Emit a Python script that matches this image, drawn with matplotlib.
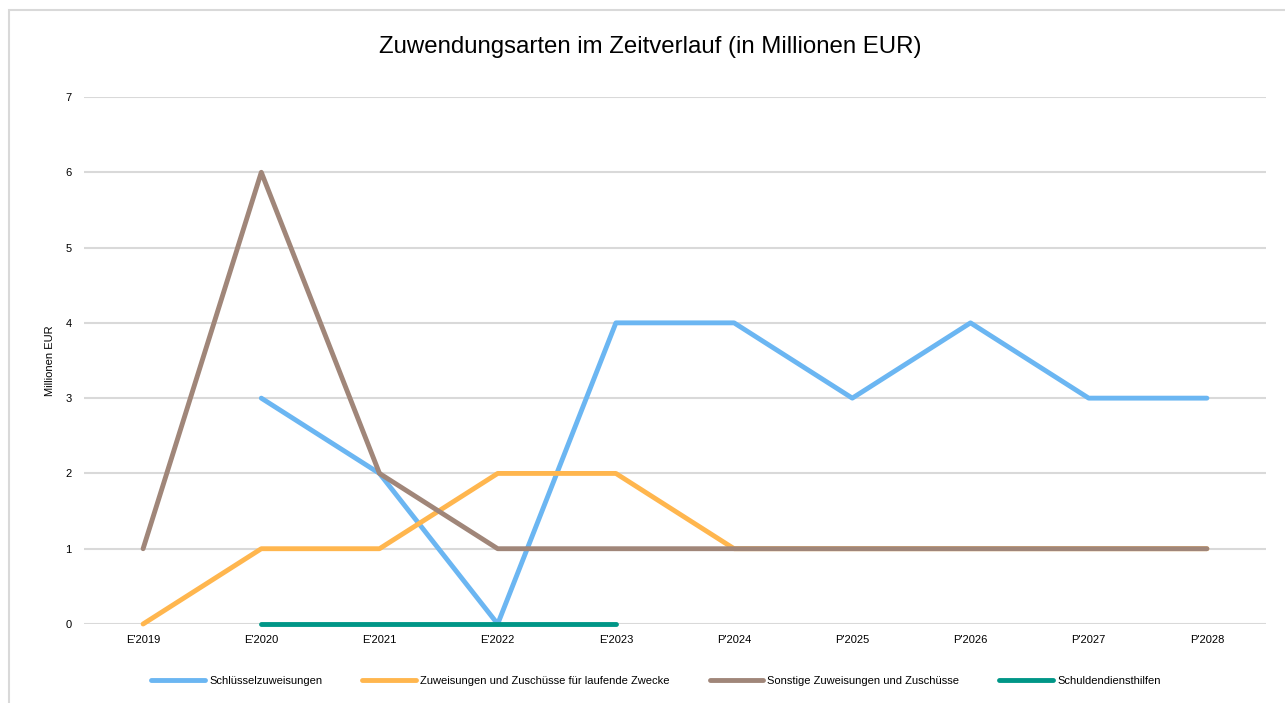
import matplotlib
matplotlib.use("Agg")
import matplotlib.pyplot as plt
from matplotlib.patches import Rectangle
import numpy as np

plt.rcParams['font.family'] = ['Liberation Sans', 'DejaVu Sans']

categories = ["E'2019", "E'2020", "E'2021", "E'2022", "E'2023",
              "P'2024", "P'2025", "P'2026", "P'2027", "P'2028"]
schluessel = [np.nan, 3, 2, 0, 4, 4, 3, 4, 3, 3]
laufende = [0, 1, 1, 2, 2, 1, 1, 1, 1, 1]
sonstige = [1, 6, 2, 1, 1, 1, 1, 1, 1, 1]
schuldendienst = [np.nan, 0, 0, 0, 0, np.nan, np.nan, np.nan, np.nan, np.nan]

series_names = ["Schlüsselzuweisungen",
                "Zuweisungen und Zuschüsse für laufende Zwecke",
                "Sonstige Zuweisungen und Zuschüsse",
                "Schuldendiensthilfen"]
colors = ["#6BB6F2", "#FFB64E", "#A08679", "#009687"]
yticks = [0, 1, 2, 3, 4, 5, 6, 7]

W, H = 1285, 703
fig = plt.figure(figsize=(W / 100, H / 100), dpi=100)
fig.patches.append(Rectangle((9 / W, -0.1), 1.2, 1 - 10 / H + 0.1,
                             transform=fig.transFigure, fill=False,
                             edgecolor="#D9D9D9", linewidth=1.5))

ax = fig.add_axes([84 / W, 1 - 624 / H, (1266 - 84) / W, (624 - 97) / H])
x = np.arange(len(categories))
for vals, name, c in zip([schluessel, laufende, sonstige, schuldendienst],
                         series_names, colors):
    ax.plot(x, vals, color=c, linewidth=3.5, label=name, clip_on=False,
            solid_capstyle="round", solid_joinstyle="round")

ax.set_xlim(-0.5, len(categories) - 0.5)
ax.set_ylim(0, 7)
ax.set_yticks(yticks)
ax.set_xticks(x)
ax.set_xticklabels(categories)
ax.grid(axis="y", color="#D9D9D9", linewidth=1.5)
ax.set_axisbelow(True)
for s in ax.spines.values():
    s.set_visible(False)
ax.tick_params(axis="both", length=0, labelsize=8, colors="#000000")
ax.tick_params(axis="x", pad=8)
ax.tick_params(axis="y", pad=9)
ax.set_ylabel("Millionen EUR", fontsize=8)
ax.yaxis.set_label_coords(-0.0245, 0.5)

fig.text(0.506, 1 - 47 / H, "Zuwendungsarten im Zeitverlauf (in Millionen EUR)",
         ha="center", va="center", fontsize=17.3)

fig.legend(loc="center", bbox_to_anchor=(656 / W, 1 - 681 / H), ncol=4,
           frameon=False, fontsize=8, handlelength=4.8, columnspacing=3.6,
           handletextpad=0.4)

fig.savefig("out.png", dpi=100)
